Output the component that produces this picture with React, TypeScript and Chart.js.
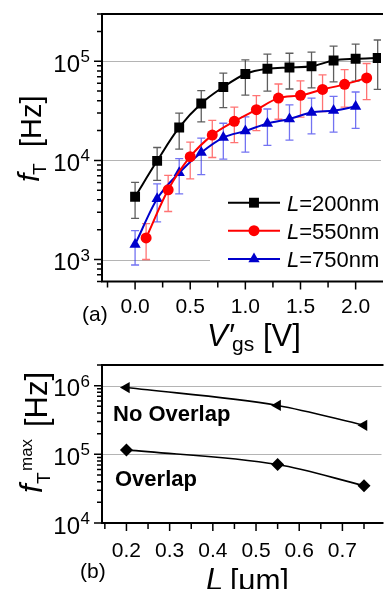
import React, { useEffect, useRef } from "react";
import { Chart, registerables } from "chart.js";

Chart.register(...registerables);

const W = 388;
const H = 589;
const FONT = "'Liberation Sans', Arial, Helvetica, sans-serif";

// ---------- Panel (a): f_T vs V'gs ----------
const vgs200 = [0, 0.2, 0.4, 0.6, 0.8, 1.0, 1.2, 1.4, 1.6, 1.8, 2.0, 2.2];
const fT200 = [4300, 9900, 21500, 37500, 55000, 74500, 84000, 86500, 89000, 102000, 106000, 108000];
const err200 = [1700, 3600, 8500, 13000, 21000, 29000, 34000, 34000, 35000, 40000, 43000, 56000];

const vgs550 = [0.1, 0.3, 0.5, 0.7, 0.9, 1.1, 1.3, 1.5, 1.7, 1.9, 2.1];
const fT550 = [1650, 5050, 10900, 18000, 24800, 32500, 42500, 45300, 52000, 58500, 68000];
const err550 = [650, 2000, 4400, 7300, 9700, 12500, 16500, 18000, 21000, 24000, 27000];

const vgs750 = [0, 0.2, 0.4, 0.6, 0.8, 1.0, 1.2, 1.4, 1.6, 1.8, 2.0];
const fT750 = [1420, 4100, 7500, 12000, 17000, 19800, 23600, 26200, 30500, 31800, 35000];
const err750 = [540, 1700, 2900, 4800, 6700, 7700, 9400, 10200, 12000, 12500, 14000];

const legendA = ["=200nm", "=550nm", "=750nm"];

const xMajorA = [0, 0.5, 1.0, 1.5, 2.0];
const xLabelsA = ["0.0", "0.5", "1.0", "1.5", "2.0"];
const xMinorA = [-0.25, 0.25, 0.75, 1.25, 1.75];
const yMajorA = [1e3, 1e4, 1e5];
const yExpA = ["3", "4", "5"];

// ---------- Panel (b): f_T^max vs L ----------
const lengths = [0.2, 0.55, 0.75];
const fmaxNoOverlap = [940000, 515000, 265000];
const fmaxOverlap = [116000, 71000, 35000];

const xMajorB = [0.2, 0.3, 0.4, 0.5, 0.6, 0.7];
const xLabelsB = ["0.2", "0.3", "0.4", "0.5", "0.6", "0.7"];
const xMinorB = [0.15, 0.25, 0.35, 0.45, 0.55, 0.65, 0.75];
const yMajorB = [1e4, 1e5, 1e6];
const yExpB = ["4", "5", "6"];

const BLUE = "#0000cc";
const RED = "#ff0000";

function logMinor(min: number, max: number) {
  const out: number[] = [];
  for (let n = Math.floor(Math.log10(min)); n <= Math.ceil(Math.log10(max)); n++) {
    for (let k = 2; k <= 9; k++) {
      const v = k * Math.pow(10, n);
      if (v >= min * 0.999 && v <= max * 1.001) out.push(v);
    }
  }
  return out;
}

function txt(ctx: CanvasRenderingContext2D, s: string, x: number, y: number, font: string, align: CanvasTextAlign = "left") {
  ctx.font = font;
  ctx.textAlign = align;
  ctx.textBaseline = "alphabetic";
  ctx.fillStyle = "#000";
  ctx.fillText(s, x, y);
}

function powLabel(ctx: CanvasRenderingContext2D, exp: string, xRight: number, yTick: number) {
  ctx.font = `17px ${FONT}`;
  const ew = ctx.measureText(exp).width;
  txt(ctx, exp, xRight, yTick + 1, `17px ${FONT}`, "right");
  txt(ctx, "10", xRight - ew - 0.5, yTick + 10.5, `24px ${FONT}`, "right");
}

function marker(ctx: CanvasRenderingContext2D, style: string, x: number, y: number, r: number, color: string) {
  ctx.save();
  ctx.fillStyle = color;
  ctx.beginPath();
  if (style === "rect") {
    const s = r * Math.SQRT1_2;
    ctx.rect(x - s, y - s, 2 * s, 2 * s);
  } else if (style === "circle") {
    ctx.arc(x, y, r, 0, Math.PI * 2);
  } else {
    ctx.moveTo(x, y - r);
    ctx.lineTo(x + r * Math.sin((2 * Math.PI) / 3), y + r / 2);
    ctx.lineTo(x - r * Math.sin((2 * Math.PI) / 3), y + r / 2);
    ctx.closePath();
  }
  ctx.fill();
  ctx.restore();
}

function drawAxes(chart: any, xMajor: number[], xLabels: string[], xMinor: number[], yMajor: number[], yExp: string[], labelBaseline: number) {
  const { ctx, chartArea: a, scales } = chart;
  const x = scales.x;
  const y = scales.y;
  ctx.save();
  ctx.strokeStyle = "#000";
  ctx.lineWidth = 2;
  ctx.beginPath();
  ctx.moveTo(a.left - 1, a.top);
  ctx.lineTo(a.right + 2, a.top);
  ctx.moveTo(a.left, a.top);
  ctx.lineTo(a.left, a.bottom);
  ctx.moveTo(a.left - 1, a.bottom);
  ctx.lineTo(a.right + 2, a.bottom);
  ctx.stroke();
  ctx.lineWidth = 1.5;
  ctx.beginPath();
  yMajor.forEach((v) => {
    const py = y.getPixelForValue(v);
    ctx.moveTo(a.left - 8, py);
    ctx.lineTo(a.left, py);
  });
  logMinor(y.min, y.max).forEach((v) => {
    const py = y.getPixelForValue(v);
    ctx.moveTo(a.left - 5, py);
    ctx.lineTo(a.left, py);
  });
  xMajor.forEach((v) => {
    const px = x.getPixelForValue(v);
    ctx.moveTo(px, a.bottom);
    ctx.lineTo(px, a.bottom + 8);
  });
  xMinor.forEach((v) => {
    const px = x.getPixelForValue(v);
    ctx.moveTo(px, a.bottom);
    ctx.lineTo(px, a.bottom + 6);
  });
  ctx.stroke();
  yMajor.forEach((v, i) => powLabel(ctx, yExp[i], 90, y.getPixelForValue(v)));
  xMajor.forEach((v, i) => txt(ctx, xLabels[i], x.getPixelForValue(v), labelBaseline, `21px ${FONT}`, "center"));
  ctx.restore();
}

function drawGrid(chart: any, yMajor: number[]) {
  const { ctx, chartArea: a, scales } = chart;
  ctx.save();
  ctx.strokeStyle = "#b4b4b4";
  ctx.lineWidth = 1;
  ctx.beginPath();
  yMajor.forEach((v) => {
    const py = Math.round(scales.y.getPixelForValue(v)) + 0.5;
    ctx.moveTo(a.left, py);
    ctx.lineTo(a.right, py);
  });
  ctx.stroke();
  ctx.restore();
}

const errorBarsPlugin = {
  id: "errorBars",
  beforeDatasetsDraw(chart: any) {
    drawGrid(chart, chart.config.options.gridValues);
    const { ctx, chartArea: a } = chart;
    const yScale = chart.scales.y;
    ctx.save();
    ctx.beginPath();
    ctx.rect(a.left, a.top, a.right - a.left, a.bottom - a.top);
    ctx.clip();
    chart.data.datasets.forEach((ds: any, i: number) => {
      if (!ds.errorBars) return;
      const meta = chart.getDatasetMeta(i);
      ctx.strokeStyle = ds.errorColor;
      ctx.lineWidth = 1.3;
      ctx.beginPath();
      meta.data.forEach((pt: any, j: number) => {
        const v = ds.data[j].y;
        const e = ds.errorBars[j];
        const yt = yScale.getPixelForValue(v + e);
        const yb = yScale.getPixelForValue(Math.max(v - e, 1));
        const px = pt.x;
        ctx.moveTo(px, yt);
        ctx.lineTo(px, yb);
        ctx.moveTo(px - 4, yt);
        ctx.lineTo(px + 4, yt);
        ctx.moveTo(px - 4, yb);
        ctx.lineTo(px + 4, yb);
      });
      ctx.stroke();
    });
    ctx.restore();
  },
};

const panelAPlugin = {
  id: "panelA",
  afterDraw(chart: any) {
    const ctx = chart.ctx;
    drawAxes(chart, xMajorA, xLabelsA, xMinorA, yMajorA, yExpA, 313);
    ctx.save();
    // legend
    ctx.fillStyle = "#fff";
    ctx.fillRect(210, 186, 178, 90);
    const rows = [202.7, 230.7, 259];
    const cols = ["#000", RED, BLUE];
    const styles = ["rect", "circle", "triangle"];
    const radii = [7, 5.5, 6.5];
    rows.forEach((ry, i) => {
      ctx.strokeStyle = cols[i];
      ctx.lineWidth = 2;
      ctx.beginPath();
      ctx.moveTo(228, ry);
      ctx.lineTo(280, ry);
      ctx.stroke();
      marker(ctx, styles[i], 254, ry, radii[i], cols[i]);
      txt(ctx, "L", 287, ry + 8, `italic 22px ${FONT}`);
      ctx.font = `italic 22px ${FONT}`;
      const lw = ctx.measureText("L").width;
      txt(ctx, legendA[i], 287 + lw, ry + 8, `22px ${FONT}`);
    });
    // panel label and x title
    txt(ctx, "(a)", 82, 321, `21px ${FONT}`);
    txt(ctx, "V\u2032", 207, 346, `italic 31px ${FONT}`);
    txt(ctx, "gs", 232, 351, `21px ${FONT}`);
    txt(ctx, "[V]", 263, 346, `31px ${FONT}`);
    // y title rotated
    ctx.translate(0, 182);
    ctx.rotate(-Math.PI / 2);
    txt(ctx, "f", 0, 39, `italic 30px ${FONT}`);
    txt(ctx, "T", 7, 46, `19px ${FONT}`);
    txt(ctx, "[Hz]", 35, 41, `29px ${FONT}`);
    ctx.restore();
  },
};

const panelBPlugin = {
  id: "panelB",
  afterDraw(chart: any) {
    const ctx = chart.ctx;
    drawAxes(chart, xMajorB, xLabelsB, xMinorB, yMajorB, yExpB, 557);
    ctx.save();
    txt(ctx, "No Overlap", 113, 421, `bold 22px ${FONT}`);
    txt(ctx, "Overlap", 115, 486, `bold 22px ${FONT}`);
    txt(ctx, "(b)", 80, 578, `21px ${FONT}`);
    txt(ctx, "L", 206, 590, `italic 31px ${FONT}`);
    txt(ctx, "[\u03bcm]", 230, 590, `30px ${FONT}`);
    ctx.translate(0, 493);
    ctx.rotate(-Math.PI / 2);
    txt(ctx, "f", 0, 42, `italic 31px ${FONT}`);
    txt(ctx, "T", 9, 50, `19px ${FONT}`);
    txt(ctx, "max", 22, 32, `17px ${FONT}`);
    txt(ctx, "[Hz]", 66, 47, `31px ${FONT}`);
    ctx.restore();
  },
};

function lineDs(label: string, xs: number[], ys: number[], color: string, style: string, r: number, errs?: number[], errColor?: string, rotation = 0, width = 2): any {
  return {
    label,
    data: xs.map((x, i) => ({ x, y: ys[i] })),
    borderColor: color,
    backgroundColor: color,
    borderWidth: width,
    pointStyle: style,
    pointRadius: r,
    pointRotation: rotation,
    pointBorderWidth: 0,
    pointBackgroundColor: color,
    cubicInterpolationMode: "monotone",
    errorBars: errs,
    errorColor: errColor,
  };
}

export default function App() {
  const refA = useRef<HTMLCanvasElement>(null);
  const refB = useRef<HTMLCanvasElement>(null);

  useEffect(() => {
    const chartA = new Chart(refA.current as HTMLCanvasElement, {
      type: "line",
      data: {
        datasets: [
          lineDs("L=200nm", vgs200, fT200, "#000", "rect", 7, err200, "rgba(40,40,40,0.75)"),
          lineDs("L=550nm", vgs550, fT550, RED, "circle", 5.5, err550, "rgba(255,40,40,0.65)"),
          lineDs("L=750nm", vgs750, fT750, BLUE, "triangle", 6.5, err750, "rgba(40,40,235,0.65)"),
        ],
      },
      options: {
        responsive: false,
        animation: false,
        events: [],
        gridValues: yMajorA,
        layout: { padding: { left: 102, top: 14, right: 0, bottom: H - 281.5 } },
        scales: {
          x: { type: "linear", min: -0.3, max: 2.23, display: false },
          y: { type: "logarithmic", min: 600, max: 3e5, display: false },
        },
        plugins: { legend: { display: false }, tooltip: { enabled: false } },
      } as any,
      plugins: [errorBarsPlugin, panelAPlugin],
    });

    const chartB = new Chart(refB.current as HTMLCanvasElement, {
      type: "line",
      data: {
        datasets: [
          lineDs("No Overlap", lengths, fmaxNoOverlap, "#000", "triangle", 6.5, undefined, undefined, -90, 1.6),
          lineDs("Overlap", lengths, fmaxOverlap, "#000", "rectRot", 6.5, undefined, undefined, 0, 1.6),
        ],
      },
      options: {
        responsive: false,
        animation: false,
        events: [],
        gridValues: yMajorB,
        layout: { padding: { left: 102, top: 365, right: 0, bottom: H - 523 } },
        scales: {
          x: { type: "linear", min: 0.1434, max: 0.7905, display: false },
          y: { type: "logarithmic", min: 1e4, max: 2e6, display: false },
        },
        plugins: { legend: { display: false }, tooltip: { enabled: false } },
      } as any,
      plugins: [errorBarsPlugin, panelBPlugin],
    });

    return () => {
      chartA.destroy();
      chartB.destroy();
    };
  }, []);

  return (
    <div style={{ position: "absolute", left: 0, top: 0, width: W, height: H, overflow: "hidden", background: "#fff" }}>
      <canvas ref={refA} width={W} height={H} style={{ position: "absolute", left: 0, top: 0 }} />
      <canvas ref={refB} width={W} height={H} style={{ position: "absolute", left: 0, top: 0 }} />
    </div>
  );
}
